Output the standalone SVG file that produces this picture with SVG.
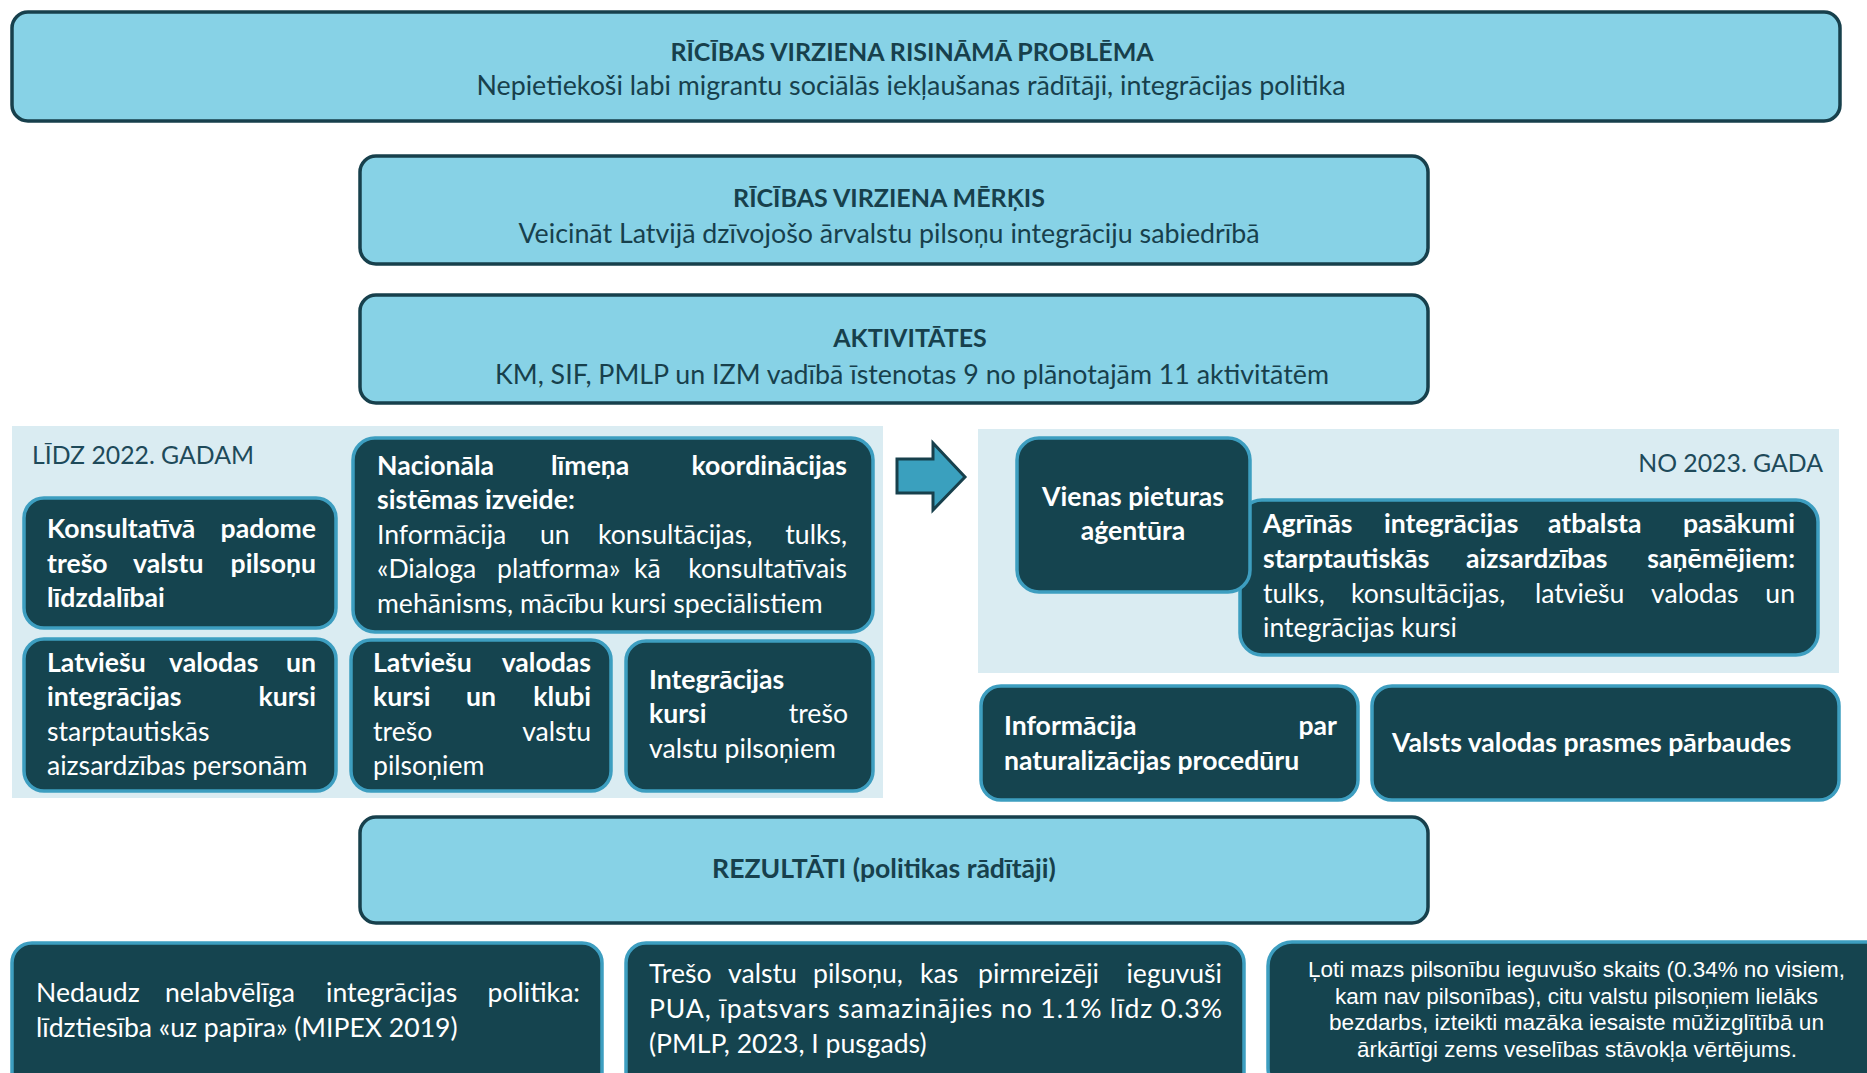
<svg xmlns="http://www.w3.org/2000/svg" width="1867" height="1073" viewBox="0 0 1867 1073">
<style>
.lb{fill:#87D2E6;stroke:#17404C;stroke-width:3.5}
.dn{fill:#15444F;stroke:#3D9EC0;stroke-width:3.5}
.panel{fill:#DAECF2}
text{font-family:Lato,"Liberation Sans",sans-serif}
.hb{font-size:25px;font-weight:bold;fill:#17404C}
.hr{font-size:26.8px;fill:#17404C}
.pl{font-size:24.8px;fill:#1E4A5A}
.wb{font-size:26.6px;font-weight:bold;fill:#FFFFFF}
.wr{font-size:26.6px;fill:#FFFFFF}
.e{text-anchor:end}
.ar{font-family:"Liberation Sans",Arial,sans-serif;font-size:22px;fill:#FFFFFF}
</style>
<rect width="1867" height="1073" fill="#FFFFFF"/>
<g id="panel-left"><rect class="panel" x="12" y="426" width="871" height="372"/><text class="pl" x="32" y="464">LĪDZ 2022. GADAM</text></g>
<g id="panel-right"><rect class="panel" x="978" y="429" width="861" height="244"/><text class="pl" x="1823" y="472" text-anchor="end">NO 2023. GADA</text></g>

<g id="problema"><rect class="lb" x="12" y="12" width="1828" height="109" rx="16"/>
<text class="hb" x="912" y="61" text-anchor="middle">RĪCĪBAS VIRZIENA RISINĀMĀ PROBLĒMA</text>
<text class="hr" x="911" y="95" text-anchor="middle">Nepietiekoši labi migrantu sociālās iekļaušanas rādītāji, integrācijas politika</text></g>

<g id="merkis"><rect class="lb" x="360" y="156" width="1068" height="108" rx="16"/>
<text class="hb" x="889" y="207" text-anchor="middle">RĪCĪBAS VIRZIENA MĒRĶIS</text>
<text class="hr" x="889" y="243" text-anchor="middle">Veicināt Latvijā dzīvojošo ārvalstu pilsoņu integrāciju sabiedrībā</text></g>

<g id="aktivitates"><rect class="lb" x="360" y="295" width="1068" height="108" rx="16"/>
<text class="hb" x="910" y="347" text-anchor="middle">AKTIVITĀTES</text>
<text class="hr" x="912" y="384" text-anchor="middle">KM, SIF, PMLP un IZM vadībā īstenotas 9 no plānotajām 11 aktivitātēm</text></g>

<g id="konsultativa"><rect class="dn" x="24" y="498" width="312" height="130" rx="20"/>
<text class="wb" y="538"><tspan x="47">Konsultatīvā </tspan><tspan class="e" x="316">padome</tspan></text>
<text class="wb" y="573"><tspan x="47">trešo </tspan><tspan x="133">valstu </tspan><tspan class="e" x="316">pilsoņu</tspan></text>
<text class="wb" x="47" y="607">līdzdalībai</text></g>

<g id="nacionala"><rect class="dn" x="353" y="438" width="520" height="194" rx="22"/>
<text class="wb" y="475"><tspan x="377">Nacionāla </tspan><tspan x="551">līmeņa </tspan><tspan class="e" x="847">koordinācijas</tspan></text>
<text class="wb" x="377" y="509">sistēmas izveide:</text>
<text class="wr" y="544"><tspan x="377">Informācija </tspan><tspan x="540">un </tspan><tspan x="598">konsultācijas, </tspan><tspan class="e" x="847">tulks,</tspan></text>
<text class="wr" y="578"><tspan x="377">«Dialoga </tspan><tspan x="497">platforma» </tspan><tspan x="634">kā </tspan><tspan class="e" x="847">konsultatīvais</tspan></text>
<text class="wr" x="377" y="613">mehānisms, mācību kursi speciālistiem</text></g>

<g id="latv-integr"><rect class="dn" x="24" y="639" width="312" height="152" rx="20"/>
<text class="wb" y="672"><tspan x="47">Latviešu </tspan><tspan x="169">valodas </tspan><tspan class="e" x="316">un</tspan></text>
<text class="wb" y="706"><tspan x="47">integrācijas </tspan><tspan class="e" x="316">kursi</tspan></text>
<text class="wr" x="47" y="741">starptautiskās</text>
<text class="wr" x="47" y="775">aizsardzības personām</text></g>

<g id="latv-klubi"><rect class="dn" x="351" y="640" width="260" height="151" rx="20"/>
<text class="wb" y="672"><tspan x="373">Latviešu </tspan><tspan class="e" x="591">valodas</tspan></text>
<text class="wb" y="706"><tspan x="373">kursi </tspan><tspan x="466">un </tspan><tspan class="e" x="591">klubi</tspan></text>
<text class="wr" y="741"><tspan x="373">trešo </tspan><tspan class="e" x="591">valstu</tspan></text>
<text class="wr" x="373" y="775">pilsoņiem</text></g>

<g id="integr-kursi"><rect class="dn" x="626" y="641" width="247" height="150" rx="20"/>
<text class="wb" x="649" y="689">Integrācijas</text>
<text y="723"><tspan class="wb" x="649">kursi </tspan><tspan class="wr e" x="848">trešo</tspan></text>
<text class="wr" x="649" y="758">valstu pilsoņiem</text></g>

<g id="agrinas"><rect class="dn" x="1240" y="500" width="578" height="155" rx="22"/>
<text class="wb" y="533"><tspan x="1263">Agrīnās </tspan><tspan x="1384">integrācijas </tspan><tspan x="1548">atbalsta </tspan><tspan class="e" x="1795">pasākumi</tspan></text>
<text class="wb" y="568"><tspan x="1263">starptautiskās </tspan><tspan x="1466">aizsardzības </tspan><tspan class="e" x="1795">saņēmējiem:</tspan></text>
<text class="wr" y="603"><tspan x="1263">tulks, </tspan><tspan x="1351">konsultācijas, </tspan><tspan x="1535">latviešu </tspan><tspan x="1651">valodas </tspan><tspan class="e" x="1795">un</tspan></text>
<text class="wr" x="1263" y="637">integrācijas kursi</text></g>

<g id="vienas"><rect class="dn" x="1017" y="438" width="233" height="154" rx="22"/>
<text class="wb" x="1133" y="506" text-anchor="middle">Vienas pieturas</text>
<text class="wb" x="1133" y="540" text-anchor="middle">aģentūra</text></g>

<g id="naturalizacija"><rect class="dn" x="981" y="686" width="377" height="114" rx="20"/>
<text class="wb" y="735"><tspan x="1004">Informācija </tspan><tspan class="e" x="1337">par</tspan></text>
<text class="wb" x="1004" y="770">naturalizācijas procedūru</text></g>

<g id="parbaudes"><rect class="dn" x="1372" y="686" width="467" height="114" rx="20"/>
<text class="wb" x="1392" y="752">Valsts valodas prasmes pārbaudes</text></g>

<g id="rezultati"><rect class="lb" x="360" y="817" width="1068" height="106" rx="16"/>
<text class="hb" x="884" y="878" text-anchor="middle" style="font-size:26.6px">REZULTĀTI (politikas rādītāji)</text></g>

<g id="rez-1"><rect class="dn" x="12" y="943" width="590" height="150" rx="20"/>
<text class="wr" y="1002"><tspan x="36">Nedaudz </tspan><tspan x="165">nelabvēlīga </tspan><tspan x="326">integrācijas </tspan><tspan class="e" x="580">politika:</tspan></text>
<text class="wr" x="36" y="1037">līdztiesība «uz papīra» (MIPEX 2019)</text></g>

<g id="rez-2"><rect class="dn" x="626" y="943" width="618" height="150" rx="20"/>
<text class="wr" y="983"><tspan x="649">Trešo </tspan><tspan x="728">valstu </tspan><tspan x="813">pilsoņu, </tspan><tspan x="920">kas </tspan><tspan x="978">pirmreizēji </tspan><tspan class="e" x="1222">ieguvuši</tspan></text>
<text class="wr" x="649" y="1018" textLength="573" lengthAdjust="spacing">PUA, īpatsvars samazinājies no 1.1% līdz 0.3%</text>
<text class="wr" x="649" y="1053">(PMLP, 2023, I pusgads)</text></g>

<g id="rez-3"><rect class="dn" x="1268" y="942" width="640" height="150" rx="24"/>
<text class="ar" x="1308" y="977" textLength="537" lengthAdjust="spacingAndGlyphs">Ļoti mazs pilsonību ieguvušo skaits (0.34% no visiem,</text>
<text class="ar" x="1335" y="1004" textLength="483" lengthAdjust="spacingAndGlyphs">kam nav pilsonības), citu valstu pilsoņiem lielāks</text>
<text class="ar" x="1329" y="1030" textLength="495" lengthAdjust="spacingAndGlyphs">bezdarbs, izteikti mazāka iesaiste mūžizglītībā un</text>
<text class="ar" x="1357" y="1057" textLength="440" lengthAdjust="spacingAndGlyphs">ārkārtīgi zems veselības stāvokļa vērtējums.</text></g>

<g id="connectors"><path d="M897,459 L933,459 L933,443 L965,477 L933,510 L933,493 L897,493 Z" fill="#3AA0BE" stroke="#17404C" stroke-width="3" stroke-linejoin="miter"/></g>
</svg>
